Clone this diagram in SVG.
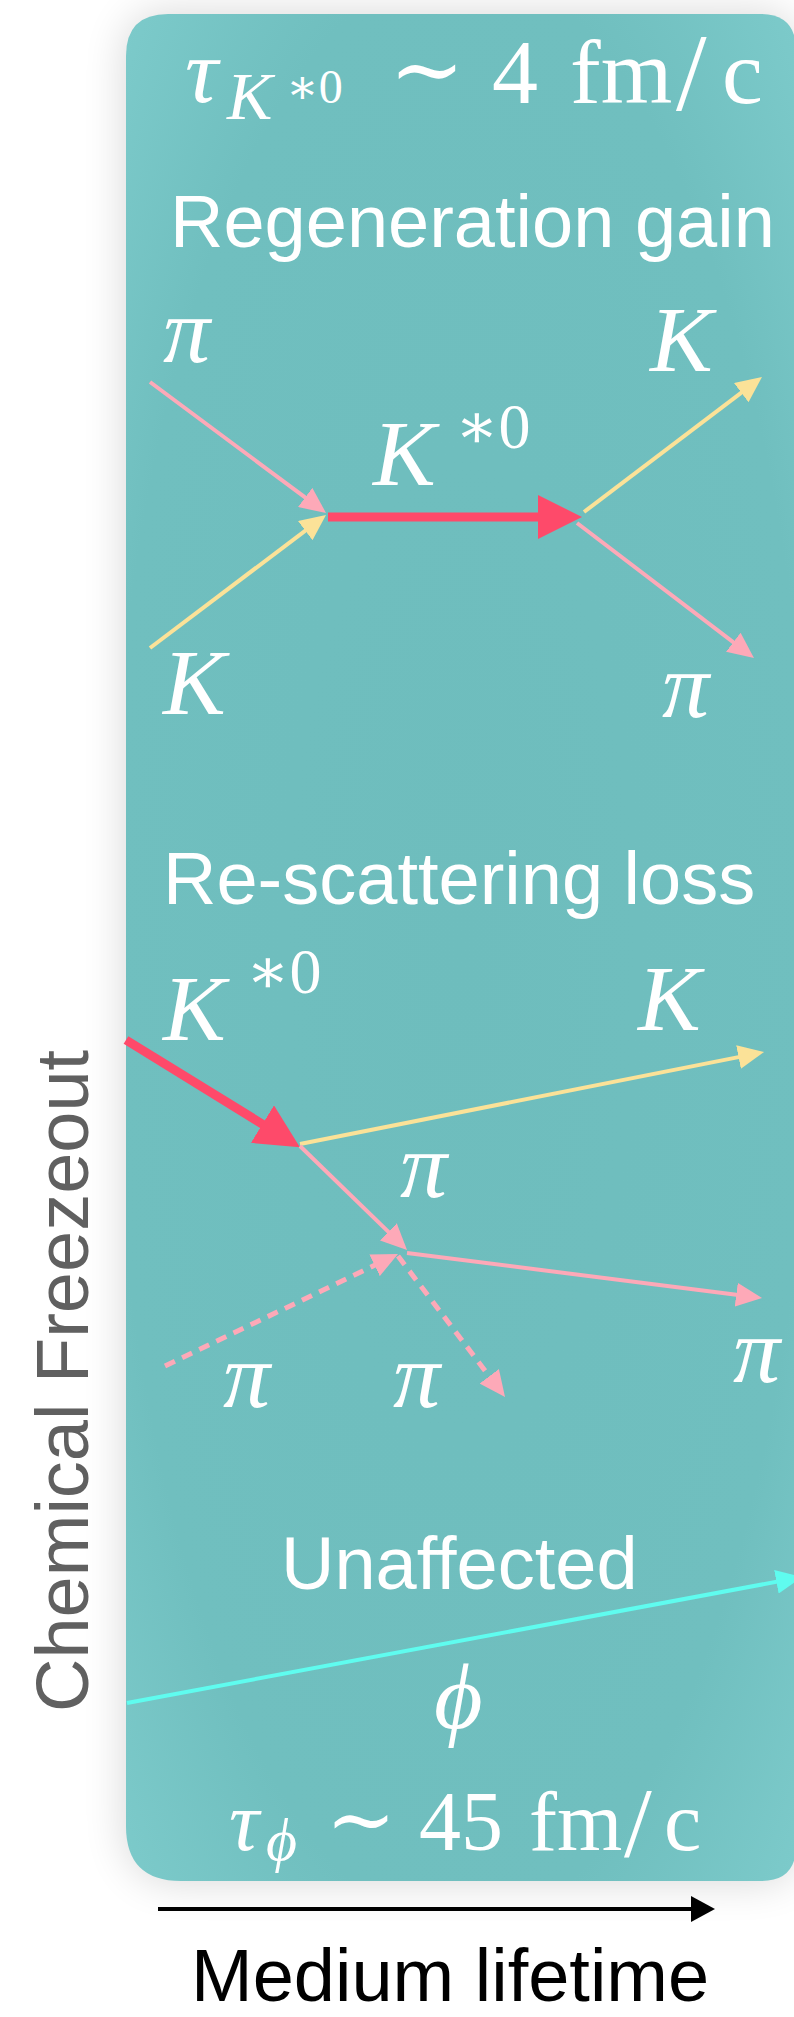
<svg xmlns="http://www.w3.org/2000/svg" width="794" height="2017" viewBox="0 0 794 2017">
<style>
.h{font-family:"Liberation Sans",Arial,sans-serif;font-size:74px;fill:#ffffff}
.m{font-family:"Liberation Serif","DejaVu Serif",serif;fill:#ffffff}
.i{font-style:italic}
.thin{fill:none;stroke-width:4}
.pink{stroke:#fda9b8}
.yel{stroke:#fbe298}
.red{stroke:#fe4a6a;stroke-width:9;fill:none}
.cyan{stroke:#5ffcef}
.dash{stroke-dasharray:11 8;stroke-width:5}
</style>
<defs>
<marker id="ap" markerUnits="userSpaceOnUse" markerWidth="26" markerHeight="24" refX="18" refY="12" orient="auto"><path d="M0,0 L26,12 L0,24 Z" fill="#fda9b8"/></marker>
<marker id="ay" markerUnits="userSpaceOnUse" markerWidth="26" markerHeight="24" refX="18" refY="12" orient="auto"><path d="M0,0 L26,12 L0,24 Z" fill="#fbe298"/></marker>
<marker id="ac" markerUnits="userSpaceOnUse" markerWidth="26" markerHeight="24" refX="18" refY="12" orient="auto"><path d="M0,0 L26,12 L0,24 Z" fill="#5ffcef"/></marker>
<marker id="ar" markerUnits="userSpaceOnUse" markerWidth="44" markerHeight="44" refX="7" refY="22" orient="auto"><path d="M0,0 L44,22 L0,44 Z" fill="#fe4a6a"/></marker>
<marker id="ak" markerUnits="userSpaceOnUse" markerWidth="24" markerHeight="26" refX="16" refY="13" orient="auto"><path d="M0,0 L24,13 L0,26 Z" fill="#000000"/></marker>
<radialGradient id="pg" cx="0.5" cy="0.5" r="0.7">
<stop offset="0" stop-color="#6ebdbd"/>
<stop offset="0.75" stop-color="#70bfbf"/>
<stop offset="1" stop-color="#7ccaca"/>
</radialGradient>
<filter id="sh" x="-0.2" y="-0.2" width="1.4" height="1.4"><feGaussianBlur stdDeviation="22"/></filter>
</defs>
<rect width="794" height="2017" fill="#ffffff"/>
<g id="panel">
<path d="M126,1826 L126,56 Q126,14 168,14 L760,14 Q796,14 796,50 L796,1846 Q796,1881 761,1881 L181,1881 Q126,1881 126,1826 Z" fill="#000000" opacity="0.16" filter="url(#sh)"/>
<path d="M126,1826 L126,56 Q126,14 168,14 L760,14 Q796,14 796,50 L796,1846 Q796,1881 761,1881 L181,1881 Q126,1881 126,1826 Z" fill="url(#pg)"/>
</g>
<g id="title-kstar">
<text class="m" font-size="92"><tspan class="i" x="185" y="102">τ</tspan><tspan class="i" x="227" y="119" font-size="68">K</tspan><tspan x="286" y="103" font-size="48">∗0</tspan><tspan x="427" y="100" text-anchor="middle" font-size="90">∼</tspan><tspan x="492" y="103">4</tspan><tspan x="570" y="103">fm</tspan><tspan x="676" y="110" font-size="110">/</tspan><tspan x="722" y="103">c</tspan></text>
</g>
<g id="regeneration">
<text class="h" x="170" y="247">Regeneration gain</text>
<text class="m i" font-size="94" x="163" y="362">π</text>
<text class="m i" font-size="94" x="650" y="371">K</text>
<text class="m" font-size="94"><tspan class="i" x="373" y="485">K</tspan><tspan x="455" y="448" font-size="64">∗0</tspan></text>
<text class="m i" font-size="94" x="163" y="714">K</text>
<text class="m i" font-size="94" x="662" y="717">π</text>
</g>
<g id="rescattering">
<text class="h" x="163" y="904">Re-scattering loss</text>
<text class="m" font-size="94"><tspan class="i" x="163" y="1040">K</tspan><tspan x="246" y="993" font-size="64">∗0</tspan></text>
<text class="m i" font-size="94" x="638" y="1030">K</text>
<text class="m i" font-size="94" x="400" y="1197">π</text>
<text class="m i" font-size="94" x="223" y="1407">π</text>
<text class="m i" font-size="94" x="393" y="1407">π</text>
<text class="m i" font-size="94" x="733" y="1382">π</text>
</g>
<g id="unaffected">
<text class="h" x="281" y="1589">Unaffected</text>
<text class="m i" font-size="94" x="434" y="1728">ϕ</text>
</g>
<g id="title-phi">
<text class="m" font-size="84"><tspan class="i" x="229" y="1850">τ</tspan><tspan class="i" x="266" y="1860" font-size="60">ϕ</tspan><tspan x="361" y="1848" text-anchor="middle" font-size="84">∼</tspan><tspan x="419" y="1850">45</tspan><tspan x="529" y="1850">fm</tspan><tspan x="624" y="1856" font-size="100">/</tspan><tspan x="664" y="1850">c</tspan></text>
</g>
<g id="axis-time">
<line x1="158" y1="1909" x2="707" y2="1909" stroke="#000000" stroke-width="4" marker-end="url(#ak)"/>
<text x="191" y="2001" font-family="Liberation Sans,Arial,sans-serif" font-size="74" fill="#000000">Medium lifetime</text>
</g>
<g id="axis-freezeout">
<text transform="translate(88,1712) rotate(-90)" x="0" y="0" font-family="Liberation Sans,Arial,sans-serif" font-size="74" fill="#606060">Chemical Freezeout</text>
</g>
<g id="connectors">
<line class="thin pink" x1="150" y1="382" x2="319.6" y2="508.2" marker-end="url(#ap)"/>
<line class="thin yel" x1="150" y1="648" x2="319.6" y2="519.8" marker-end="url(#ay)"/>
<line class="red" x1="328" y1="517" x2="545" y2="517" marker-end="url(#ar)"/>
<line class="thin yel" x1="584" y1="512" x2="755.6" y2="381.8" marker-end="url(#ay)"/>
<line class="thin pink" x1="577" y1="523" x2="747.6" y2="653.2" marker-end="url(#ap)"/>
<line class="red" x1="126" y1="1040" x2="268.4" y2="1127.8" marker-end="url(#ar)"/>
<line class="thin yel" x1="300" y1="1144" x2="756.2" y2="1053.6" marker-end="url(#ay)"/>
<line class="thin pink" x1="300" y1="1146" x2="401.3" y2="1244.4" marker-end="url(#ap)"/>
<line class="thin pink" x1="407" y1="1253" x2="754.1" y2="1297" marker-end="url(#ap)"/>
<line class="thin pink dash" x1="165" y1="1366" x2="390.8" y2="1257.5" marker-end="url(#ap)"/>
<line class="thin pink dash" x1="398" y1="1256" x2="500.2" y2="1390.6" marker-end="url(#ap)"/>
<line class="thin cyan" x1="127" y1="1703" x2="794.1" y2="1578.5" marker-end="url(#ac)"/>
</g>
</svg>
